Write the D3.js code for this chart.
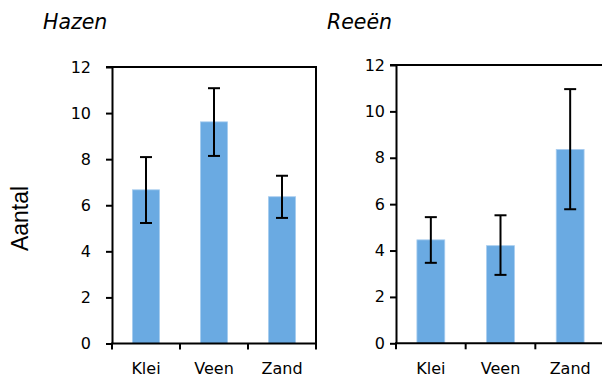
<!DOCTYPE html>
<html>
<head>
<meta charset="utf-8">
<script src="https://cdn.jsdelivr.net/npm/d3@7"></script>
<style>
  html, body { margin: 0; padding: 0; background: #fff; }
  svg { display: block; }
</style>
</head>
<body>
<svg id="chart" width="602" height="378"></svg>
<script>
// ---- Data ----
const categories = ["Klei", "Veen", "Zand"];
const hazenMean = [6.67, 9.62, 6.37];
const hazenLow  = [5.23, 8.14, 5.45];
const hazenHigh = [8.09, 11.08, 7.28];
const reeenMean = [4.46, 4.21, 8.36];
const reeenLow  = [3.47, 2.95, 5.78];
const reeenHigh = [5.44, 5.52, 10.96];
const yTicks = [0, 2, 4, 6, 8, 10, 12];
const panelTitles = ["Hazen", "Reeën"];
const yLabel = "Aantal";

const svg = d3.select("#chart");
const barColor = "#6aaae2";
const font = "'DejaVu Sans', Verdana, sans-serif";

const panels = [
  { title: panelTitles[0], mean: hazenMean, lo: hazenLow, hi: hazenHigh,
    x0: 112, x1: 316, y0: 67, y1: 343.5, labelEnd: 91, titleX: 43, rightBorder: true, frameStart: 106 },
  { title: panelTitles[1], mean: reeenMean, lo: reeenLow, hi: reeenHigh,
    x0: 396, x1: 605, y0: 65, y1: 343.3, labelEnd: 385, titleX: 327, rightBorder: false, frameStart: 390 }
];

panels.forEach(p => {
  const g = svg.append("g");
  const x = d3.scaleBand().domain(categories).range([p.x0, p.x1])
    .paddingInner(0.6).paddingOuter(0.3);
  const y = d3.scaleLinear().domain([0, 12]).range([p.y1, p.y0]);

  // bars
  g.selectAll("rect.bar").data(categories).join("rect")
    .attr("class", "bar")
    .attr("x", d => x(d))
    .attr("width", x.bandwidth())
    .attr("y", (d, i) => y(p.mean[i]))
    .attr("height", (d, i) => y(0) - y(p.mean[i]))
    .attr("fill", barColor)
    .attr("stroke", "#a8cdef")
    .attr("stroke-width", 0.8);

  // error bars
  const cx = d => x(d) + x.bandwidth() / 2;
  g.selectAll("line.err").data(categories).join("line")
    .attr("x1", cx).attr("x2", cx)
    .attr("y1", (d, i) => y(p.lo[i])).attr("y2", (d, i) => y(p.hi[i]))
    .attr("stroke", "#000").attr("stroke-width", 2);
  ["lo", "hi"].forEach(k => {
    g.selectAll("line.cap" + k).data(categories).join("line")
      .attr("x1", d => cx(d) - 6).attr("x2", d => cx(d) + 6)
      .attr("y1", (d, i) => y(p[k][i])).attr("y2", (d, i) => y(p[k][i]))
      .attr("stroke", "#000").attr("stroke-width", 2);
  });

  // y axis
  const yAxis = d3.axisLeft(y).tickValues(yTicks).tickSize(6).tickSizeOuter(0).tickFormat(d3.format("d"));
  const ya = g.append("g").attr("transform", `translate(${p.x0},0)`).call(yAxis);
  ya.select(".domain").attr("stroke", "#000").attr("stroke-width", 2);
  ya.selectAll(".tick line").attr("stroke", "#000").attr("stroke-width", 2);
  ya.selectAll(".tick text").remove();
  g.selectAll("text.ytick").data(yTicks).join("text")
    .attr("x", p.labelEnd).attr("y", d => y(d))
    .attr("text-anchor", "end").attr("dominant-baseline", "central")
    .attr("font-family", font).attr("font-size", 16).attr("fill", "#000")
    .text(d => d);

  // top frame
  g.append("line")
    .attr("x1", p.frameStart).attr("x2", p.rightBorder ? p.x1 + 1 : 602)
    .attr("y1", y(12)).attr("y2", y(12))
    .attr("stroke", "#000").attr("stroke-width", 2);
  if (p.rightBorder) {
    g.append("line")
      .attr("x1", p.x1).attr("x2", p.x1)
      .attr("y1", y(12)).attr("y2", y(0) + 6)
      .attr("stroke", "#000").attr("stroke-width", 2);
  }

  // x axis with ticks at band boundaries
  g.append("line")
    .attr("x1", p.x0 - 1).attr("x2", Math.min(p.x1, 602))
    .attr("y1", y(0)).attr("y2", y(0))
    .attr("stroke", "#000").attr("stroke-width", 2);
  const tickXs = categories.map((d, i) => p.x0 + i * x.step());
  g.selectAll("line.xtick").data(tickXs).join("line")
    .attr("x1", d => d).attr("x2", d => d)
    .attr("y1", y(0)).attr("y2", y(0) + 6)
    .attr("stroke", "#000").attr("stroke-width", 2);

  g.selectAll("text.xlab").data(categories).join("text")
    .attr("x", cx).attr("y", 374)
    .attr("text-anchor", "middle")
    .attr("font-family", font).attr("font-size", 16).attr("fill", "#000")
    .text(d => d);

  // title
  g.append("text")
    .attr("x", p.titleX).attr("y", 29)
    .attr("font-family", font).attr("font-style", "italic")
    .attr("font-size", 20.5).attr("fill", "#000")
    .text(p.title);
});

svg.append("text")
  .attr("transform", "translate(28,218.5) rotate(-90)")
  .attr("text-anchor", "middle")
  .attr("font-family", "'Liberation Sans', Arial, sans-serif")
  .attr("font-size", 23).attr("fill", "#000")
  .text(yLabel);
</script>
</body>
</html>
